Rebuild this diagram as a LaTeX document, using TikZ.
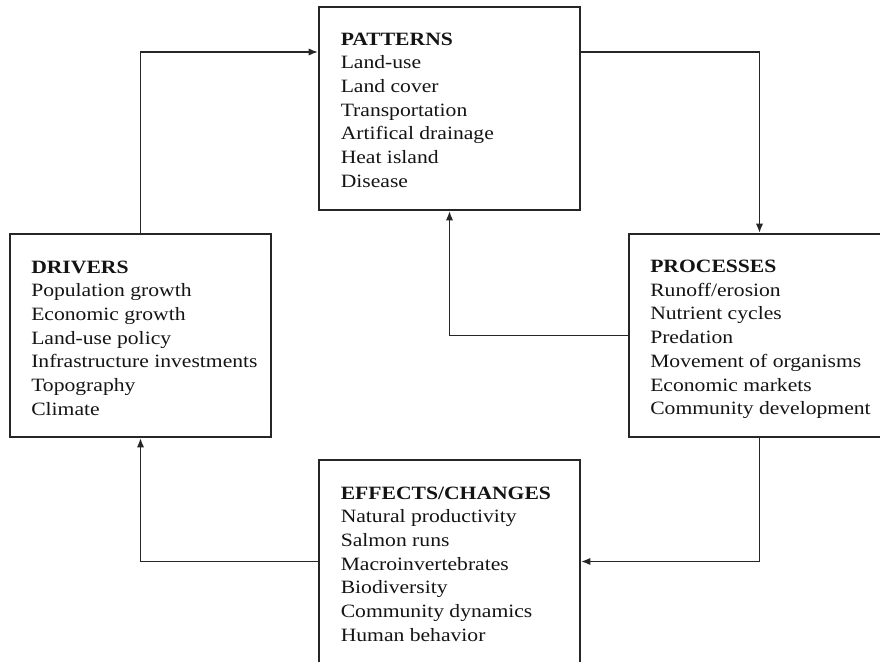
\documentclass[tikz,border=0pt]{standalone}
\usepackage{fontspec}
\setmainfont{Liberation Serif}[FakeStretch=1.15]
\usetikzlibrary{arrows.meta}
\begin{document}
\begin{tikzpicture}[x=0.75pt,y=-0.75pt,
  box/.style={draw=black!85, line width=1.5pt, minimum width=195.75pt, minimum height=152.25pt, anchor=north west, inner sep=0pt},
  txt/.style={anchor=base west, align=left, inner sep=0pt, text=black!92, font=\fontsize{14.1}{17.8}\selectfont},
  arr/.style={line width=1.3pt, draw=black!85, -{Latex[length=7pt,width=5.5pt]}}]
\useasboundingbox (0,0) rectangle (880,661);
\clip (0,0) rectangle (880,661);
\fill[white] (0,0) rectangle (880,661);
% boxes
\node[box] (pat) at (318,6) {};
\node[box] (drv) at (9,233) {};
\node[box] (proc) at (628,233) {};
\node[box] (eff) at (318,459) {};
% texts (anchored at the baseline of the last line)
\node[txt] (patT) at (340.5,187.4) {\textbf{PATTERNS}\\Land-use\\Land cover\\Transportation\\Artifical drainage\\Heat island\\Disease};
\node[txt] (drvT) at (31,415.4) {\textbf{DRIVERS}\\Population growth\\Economic growth\\Land-use policy\\Infrastructure investments\\Topography\\Climate};
\node[txt] (procT) at (650,414.9) {\textbf{PROCESSES}\\Runoff/erosion\\Nutrient cycles\\Predation\\Movement of organisms\\Economic markets\\Community development};
\node[txt] (effT) at (340.5,641.4) {\textbf{EFFECTS/CHANGES}\\Natural productivity\\Salmon runs\\Macroinvertebrates\\Biodiversity\\Community dynamics\\Human behavior};
% connectors
\draw[arr] (drv.north) |- ([yshift=-34.5pt]pat.north west);
\draw[arr] ([yshift=-34.5pt]pat.north east) -| (proc.north);
\draw[arr] (proc.west) -| (pat.south);
\draw[arr] (proc.south) |- (eff.east);
\draw[arr] (eff.west) -| (drv.south);
\end{tikzpicture}
\end{document}
